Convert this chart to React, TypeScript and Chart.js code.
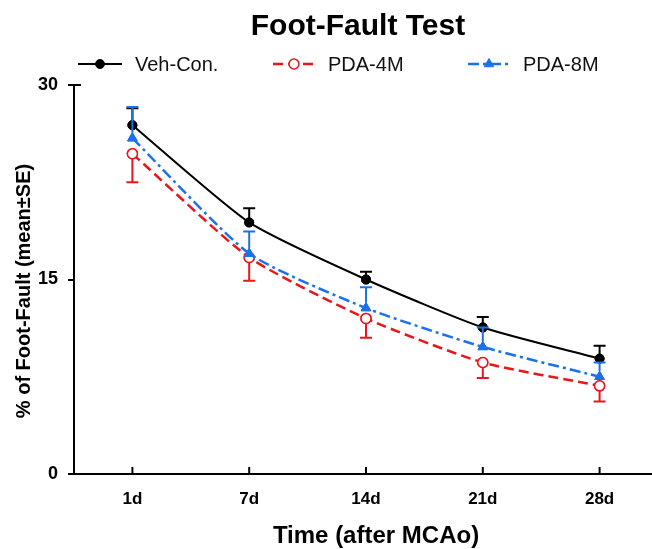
import React, { useEffect, useRef } from "react";
import { Chart, registerables } from "chart.js";

Chart.register(...registerables);

const categories = ["1d", "7d", "14d", "21d", "28d"];
const vehMean = [26.9, 19.4, 15.0, 11.3, 8.9];
const vehSE = [1.3, 1.1, 0.6, 0.8, 1.0];
const pda4Mean = [24.7, 16.7, 12.0, 8.6, 6.8];
const pda4SE = [2.2, 1.8, 1.5, 1.2, 1.2];
const pda8Mean = [25.9, 17.0, 12.8, 9.8, 7.5];
const pda8SE = [2.4, 1.7, 1.6, 1.5, 1.1];
const yTicks = [0, 15, 30];
const seriesNames = ["Veh-Con.", "PDA-4M", "PDA-8M"];

const FONT = "'Liberation Sans', Arial, sans-serif";
const BLACK = "#000000";
const RED = "#e8161b";
const BLUE = "#1b72e8";

function drawMarker(ctx: CanvasRenderingContext2D, style: string, x: number, y: number, r: number, fill: string, stroke: string, bw: number) {
  ctx.save();
  ctx.setLineDash([]);
  ctx.beginPath();
  if (style === "triangle") {
    ctx.moveTo(x, y - r);
    ctx.lineTo(x + r * 0.87, y + r * 0.5);
    ctx.lineTo(x - r * 0.87, y + r * 0.5);
    ctx.closePath();
  } else {
    ctx.arc(x, y, r, 0, Math.PI * 2);
  }
  ctx.fillStyle = fill;
  ctx.fill();
  ctx.lineWidth = bw;
  ctx.strokeStyle = stroke;
  ctx.stroke();
  ctx.restore();
}

const errorBarPlugin = {
  id: "errorBars",
  afterDatasetDraw(chart: any, args: any) {
    const ds = chart.data.datasets[args.index];
    const meta = args.meta;
    const ys = chart.scales.y;
    const ctx = chart.ctx;
    ctx.save();
    ctx.setLineDash([]);
    ctx.strokeStyle = ds.borderColor;
    ctx.lineWidth = 2;
    meta.data.forEach((pt: any, i: number) => {
      const v = ds.data[i].y;
      const e = ds.errors[i] * ds.errDir;
      const yp = ys.getPixelForValue(v + e);
      const start = pt.y - ds.errDir * ds.pointRadius;
      ctx.beginPath();
      ctx.moveTo(pt.x, start);
      ctx.lineTo(pt.x, yp);
      ctx.moveTo(pt.x - 6, yp);
      ctx.lineTo(pt.x + 6, yp);
      ctx.stroke();
    });
    ctx.restore();
    meta.data.forEach((pt: any) => {
      drawMarker(ctx, ds.pointStyle, pt.x, pt.y, ds.pointRadius, ds.pointBackgroundColor, ds.borderColor, ds.pointBorderWidth);
    });
  },
};

const decorPlugin = {
  id: "decor",
  afterDraw(chart: any) {
    const ctx = chart.ctx;
    const area = chart.chartArea;
    const xs = chart.scales.x;
    ctx.save();
    ctx.strokeStyle = BLACK;
    ctx.lineWidth = 2;
    categories.forEach((_, i) => {
      const px = xs.getPixelForValue(i);
      ctx.beginPath();
      ctx.moveTo(px, area.bottom);
      ctx.lineTo(px, area.bottom - 7);
      ctx.stroke();
    });
    ctx.beginPath();
    ctx.moveTo(area.left, area.top);
    ctx.lineTo(area.left + 7, area.top);
    ctx.stroke();
    ctx.restore();

    ctx.save();
    ctx.fillStyle = BLACK;
    ctx.font = `bold 30px ${FONT}`;
    ctx.textAlign = "center";
    ctx.textBaseline = "alphabetic";
    ctx.fillText("Foot-Fault Test", 358, 35);

    ctx.font = `bold 24px ${FONT}`;
    ctx.fillText("Time (after MCAo)", 376, 543);
    ctx.save();
    ctx.translate(24, 291);
    ctx.rotate(-Math.PI / 2);
    ctx.font = `bold 20px ${FONT}`;
    ctx.textBaseline = "middle";
    ctx.fillText("% of Foot-Fault (mean\u00b1SE)", 0, 0);
    ctx.restore();

    const pos = [
      { x1: 78, x2: 122, tx: 135 },
      { x1: 273, x2: 315, tx: 328 },
      { x1: 468, x2: 510, tx: 523 },
    ];
    const ly = 64;
    chart.data.datasets.forEach((ds: any, i: number) => {
      const p = pos[i];
      ctx.save();
      ctx.strokeStyle = ds.borderColor;
      ctx.lineWidth = ds.borderWidth;
      ctx.setLineDash(ds.borderDash || []);
      ctx.beginPath();
      ctx.moveTo(p.x1, ly);
      ctx.lineTo(p.x2, ly);
      ctx.stroke();
      ctx.restore();
      drawMarker(ctx, ds.pointStyle, (p.x1 + p.x2) / 2, ly, ds.pointRadius, ds.pointBackgroundColor, ds.borderColor, ds.pointBorderWidth);
      ctx.fillStyle = "#111";
      ctx.font = `20px ${FONT}`;
      ctx.textAlign = "left";
      ctx.textBaseline = "middle";
      ctx.fillText(ds.label, p.tx, ly + 1);
    });
    ctx.restore();
  },
};

export default function App() {
  const ref = useRef<HTMLCanvasElement | null>(null);
  useEffect(() => {
    if (!ref.current) return;
    const toXY = (arr: number[]) => arr.map((v, i) => ({ x: i, y: v }));
    const chart = new Chart(ref.current, {
      type: "line",
      data: {
        datasets: [
          {
            label: seriesNames[0],
            data: toXY(vehMean),
            errors: vehSE,
            errDir: 1,
            borderColor: BLACK,
            borderWidth: 2,
            pointStyle: "circle",
            pointRadius: 4.5,
            pointBackgroundColor: BLACK,
            pointBorderWidth: 1,
            tension: 0.2,
            order: 2,
          } as any,
          {
            label: seriesNames[1],
            data: toXY(pda4Mean),
            errors: pda4SE,
            errDir: -1,
            borderColor: RED,
            borderWidth: 2.5,
            borderDash: [10, 5],
            pointStyle: "circle",
            pointRadius: 5,
            pointBackgroundColor: "#ffffff",
            pointBorderWidth: 1.5,
            tension: 0.2,
            order: 1,
          } as any,
          {
            label: seriesNames[2],
            data: toXY(pda8Mean),
            errors: pda8SE,
            errDir: 1,
            borderColor: BLUE,
            borderWidth: 2.5,
            borderDash: [11, 4, 3, 4],
            pointStyle: "triangle",
            pointRadius: 5.5,
            pointBackgroundColor: BLUE,
            pointBorderWidth: 1,
            tension: 0.2,
            order: 0,
          } as any,
        ],
      },
      options: {
        animation: false,
        responsive: true,
        maintainAspectRatio: false,
        layout: { padding: { top: 85, right: 0, left: 0, bottom: 0 } },
        plugins: {
          legend: { display: false },
          title: { display: false },
          tooltip: { enabled: false },
        },
        scales: {
          x: {
            type: "linear",
            min: -0.5,
            max: 4.453,
            afterBuildTicks: (scale: any) => {
              scale.ticks = categories.map((_, i) => ({ value: i }));
            },
            afterFit: (scale: any) => {
              scale.height = 75;
            },
            grid: { display: true, drawOnChartArea: false, drawTicks: false },
            border: { display: true, color: BLACK, width: 2 },
            ticks: {
              padding: 15,
              color: BLACK,
              font: { family: FONT, size: 17, weight: "bold" },
              callback: (v: any) => categories[v as number] ?? "",
              maxRotation: 0,
            },
          },
          y: {
            type: "linear",
            min: 0,
            max: 30,
            afterBuildTicks: (scale: any) => {
              scale.ticks = yTicks.map((v) => ({ value: v }));
            },
            afterFit: (scale: any) => {
              scale.width = 74;
            },
            grid: {
              display: true,
              drawOnChartArea: false,
              drawTicks: true,
              tickLength: 6,
              color: BLACK,
              lineWidth: 2,
            },
            border: { display: true, color: BLACK, width: 2 },
            ticks: {
              padding: 10,
              color: BLACK,
              font: { family: FONT, size: 18, weight: "bold" },
            },
          },
        },
      } as any,
      plugins: [errorBarPlugin, decorPlugin],
    });
    return () => chart.destroy();
  }, []);
  return (
    <div style={{ position: "absolute", left: 0, top: 0, width: 652, height: 549, overflow: "hidden", background: "#fff" }}>
      <div style={{ position: "relative", width: 659, height: 549 }}>
        <canvas ref={ref} />
      </div>
    </div>
  );
}
